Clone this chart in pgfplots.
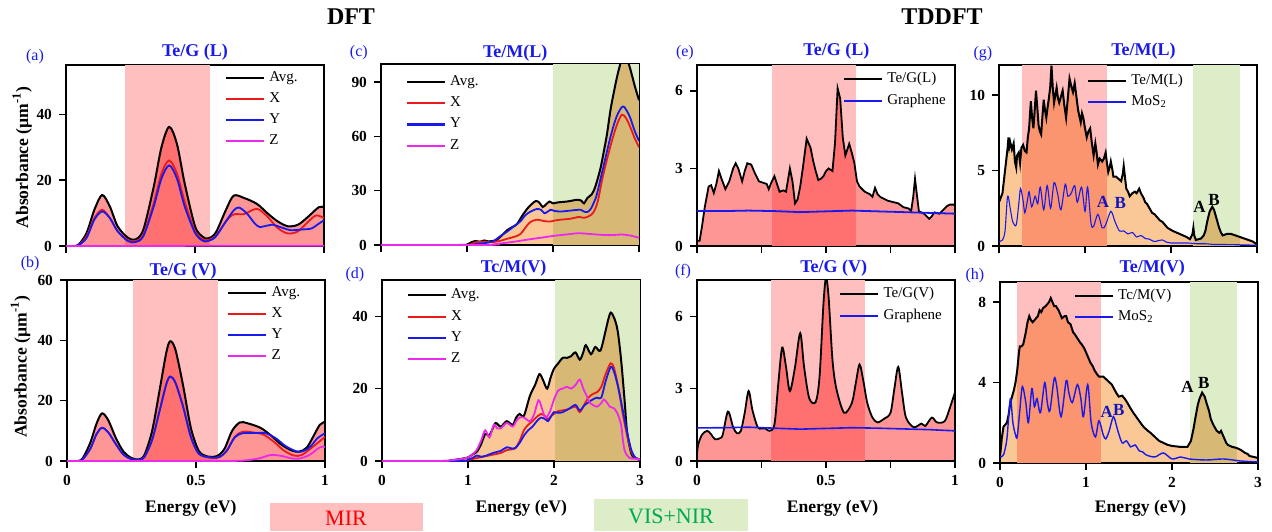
\documentclass[border=0pt]{standalone}
\usepackage{pgfplots}
\pgfplotsset{compat=1.18}
\usepackage{pgfplotstable}
\usepackage{fontspec}
\setmainfont{Liberation Serif}
\definecolor{mirpink}{RGB}{255,191,191}
\definecolor{visgreen}{RGB}{220,237,200}
\definecolor{fillred}{RGB}{255,150,150}
\definecolor{fillorange}{RGB}{250,200,150}
\definecolor{tblue}{RGB}{25,25,235}
\definecolor{lred}{RGB}{235,25,25}
\definecolor{lblue}{RGB}{25,25,235}
\definecolor{lmag}{RGB}{235,40,235}
\definecolor{vistext}{RGB}{0,170,80}

% ---------- data ----------
\pgfplotstableread{
x y
0 0
0.03 0
0.05 0.5
0.08 4
0.11 11
0.14 15.5
0.17 12
0.20 6
0.24 2.5
0.27 2
0.30 5
0.34 18
0.37 30
0.40 36.2
0.43 31
0.46 19
0.50 6
0.53 2.8
0.55 2.3
0.58 4
0.62 11
0.65 15.3
0.69 14.6
0.74 12.8
0.78 10
0.82 7.5
0.86 6
0.90 6.5
0.94 9
0.98 11.8
1.0 11.8
}\Aavg
\pgfplotstableread{
x y
0 0
0.03 0
0.05 0.3
0.08 3
0.11 8.5
0.14 11
0.17 8.5
0.20 4.5
0.24 1.8
0.27 1.5
0.30 3.5
0.34 13
0.37 22
0.40 26
0.43 22
0.46 13.5
0.50 4.5
0.53 2
0.55 1.8
0.58 3
0.62 7.5
0.65 9.6
0.69 9.7
0.74 11.3
0.78 9
0.82 5.5
0.86 3.8
0.90 4.5
0.94 7.5
0.97 9.3
1.0 8.5
}\Ax
\pgfplotstableread{
x y
0 0
0.03 0
0.05 0.3
0.08 2.5
0.11 8
0.14 10.5
0.17 8.5
0.20 4.5
0.24 1.5
0.27 1.2
0.30 3
0.34 12
0.37 20.5
0.40 24.5
0.43 20.5
0.46 12
0.50 4
0.53 1.6
0.55 1.5
0.58 2.8
0.62 7.5
0.65 10.8
0.67 11.7
0.70 10
0.73 7
0.75 5.8
0.78 6.2
0.80 6.5
0.84 5.5
0.87 4.8
0.91 5
0.95 5.3
0.98 6.8
1.0 7.8
}\Ay
\pgfplotstableread{
x y
0 0
1 0.1
}\Az
% (b)
\pgfplotstableread{
x y
0 0
0.04 0
0.06 0.8
0.09 6
0.115 12.5
0.136 15.8
0.16 13.5
0.19 7.5
0.22 3
0.25 1
0.277 0.5
0.30 2
0.33 10
0.36 24
0.385 36
0.40 39.7
0.42 37
0.45 25
0.48 11
0.51 3.5
0.54 1.6
0.58 1.6
0.61 4
0.64 10
0.67 12.8
0.70 12.5
0.75 11
0.79 8.5
0.83 5.5
0.87 3.5
0.90 3.1
0.93 4.5
0.96 9
0.98 12
1.0 13
}\Bavg
\pgfplotstableread{
x y
0 0
0.04 0
0.06 0.5
0.09 4
0.115 9
0.136 11
0.16 9.5
0.19 5.5
0.22 2
0.25 0.6
0.28 0.3
0.30 1.3
0.33 7
0.36 17
0.385 25.5
0.40 28
0.42 26
0.45 18
0.48 8
0.51 2.5
0.55 1.2
0.59 1.3
0.62 3.5
0.65 8
0.68 9.7
0.72 9.5
0.76 8.8
0.80 6.5
0.84 3.5
0.88 1.8
0.91 2
0.95 4.5
1.0 8
}\Bx
\pgfplotstableread{
x y
0 0
0.04 0
0.06 0.5
0.09 4
0.115 9
0.136 11
0.16 9.5
0.19 5.5
0.22 2
0.25 0.6
0.28 0.3
0.30 1.3
0.33 7
0.36 17
0.385 25.5
0.40 28
0.42 26
0.45 18
0.48 8
0.51 2.5
0.55 1.2
0.59 1.3
0.62 3.5
0.65 7.8
0.68 9.2
0.73 9.3
0.77 9.2
0.81 7.5
0.85 4.8
0.90 3
0.94 4.5
0.97 7.5
1.0 9.2
}\By
\pgfplotstableread{
x y
0 0
0.6 0
0.7 0.3
0.75 1
0.79 2
0.83 1.7
0.87 0.9
0.9 0.8
0.94 2
0.97 4
0.99 4.8
1.0 4.6
}\Bz
% (c)
\pgfplotstableread{
x y
0 0
0.9 0
1.0 0.3
1.05 1.5
1.1 2.2
1.15 1.8
1.2 2.5
1.25 2
1.3 2.2
1.35 3
1.42 6
1.47 8.3
1.53 10
1.58 11.5
1.64 16
1.70 20
1.75 22.5
1.80 24.3
1.84 23.5
1.88 21
1.92 22.5
1.96 24
2.0 23
2.05 23.5
2.16 24
2.22 24.5
2.28 25
2.33 24.5
2.36 23
2.40 26
2.45 28
2.49 32
2.55 42
2.60 54
2.63 62
2.67 75
2.71 85
2.75 94
2.80 103
2.83 106
2.86 103
2.90 97
2.95 88
3.0 80
}\Cavg
\pgfplotstableread{
x y
0 0
1.0 0
1.05 0.5
1.1 1.5
1.2 1.8
1.3 1.6
1.4 2.5
1.47 3.5
1.55 4.5
1.62 6
1.67 9
1.72 12
1.77 13.5
1.82 14
1.90 13.2
1.97 13
2.02 13.5
2.09 14
2.2 14.5
2.3 15.5
2.36 15
2.42 16
2.47 18
2.52 24
2.58 38
2.67 55
2.74 66
2.80 72
2.85 70
2.90 65
2.95 59
3.0 54
}\Cx
\pgfplotstableread{
x y
0 0
1.0 0
1.1 0.5
1.2 1
1.3 2
1.39 5
1.47 7.5
1.55 10.5
1.62 13
1.68 16.5
1.74 18.5
1.82 20
1.86 19.5
1.90 17.5
1.94 18.5
1.97 19.5
2.02 18.8
2.09 18.5
2.2 19
2.32 19.5
2.36 18.5
2.40 18.2
2.44 20
2.48 24
2.51 28
2.58 42
2.67 60
2.74 71
2.81 76.5
2.86 74
2.90 70
2.95 63
3.0 57.5
}\Cy
\pgfplotstableread{
x y
0 0
1.2 0
1.3 0.3
1.4 0.9
1.5 1.5
1.6 2.2
1.75 3.3
1.9 4.3
2.0 5
2.15 5.8
2.3 6.5
2.45 6
2.6 5.5
2.7 5.5
2.8 5.8
2.9 5.2
3.0 4
}\Cz
% (d)
\pgfplotstableread{
x y
0 0
0.7 0
0.8 0.2
0.9 0.5
1.0 1
1.05 1.8
1.1 2.5
1.15 4.5
1.2 7.5
1.24 7
1.27 8
1.32 10.5
1.38 9.5
1.45 11
1.52 10
1.56 12
1.60 13
1.65 12.5
1.72 18
1.78 21
1.83 24
1.87 22.5
1.92 20
1.96 23
2.0 25.5
2.05 27
2.1 28.5
2.15 28.5
2.2 29
2.25 30
2.3 28
2.34 30
2.37 32
2.43 29.5
2.48 31.5
2.54 30.5
2.6 36
2.63 39
2.66 41
2.70 39.5
2.74 36
2.78 28
2.82 17
2.85 8
2.9 2
2.95 0.8
3.0 0.5
}\Davg
\pgfplotstableread{
x y
0 0
0.9 0
1.0 0.3
1.1 0.8
1.2 1.3
1.3 1.8
1.38 2.2
1.45 3
1.5 3.2
1.55 3.5
1.6 5.5
1.65 8.5
1.7 10
1.75 11
1.8 12.2
1.85 13
1.9 12.3
1.93 11.5
1.97 12.5
2.0 13
2.05 13.8
2.1 14
2.15 14.2
2.25 15
2.3 13.5
2.35 15.5
2.4 17.5
2.45 18.5
2.5 19
2.55 20.5
2.6 24
2.66 27
2.7 25.5
2.75 20
2.8 13
2.85 7
2.9 2.5
2.95 0.8
3.0 0.3
}\Dx
\pgfplotstableread{
x y
0 0
0.9 0
1.0 0.4
1.05 0.8
1.1 1.5
1.15 1.2
1.2 1.4
1.3 2.3
1.38 2.8
1.45 3.8
1.5 3.5
1.55 3.6
1.6 5
1.65 7
1.7 8.5
1.75 9.5
1.8 11
1.85 12
1.9 11.5
1.93 11
1.97 12.5
2.0 13.5
2.05 13.3
2.1 13.5
2.18 14.5
2.25 15.5
2.3 14
2.36 15.5
2.45 17
2.5 17.5
2.55 17.5
2.6 22
2.66 26
2.7 24.5
2.75 20
2.8 14
2.85 8
2.9 3
2.95 0.8
3.0 0.3
}\Dy
\pgfplotstableread{
x y
0 0
0.7 0
0.8 0.2
0.9 0.5
1.0 1
1.05 1.8
1.1 3
1.15 5.5
1.2 8.5
1.25 6.5
1.3 10
1.34 9
1.38 9
1.45 10.5
1.52 9.5
1.56 11
1.6 12
1.65 12
1.72 11
1.77 13
1.82 16.8
1.86 14.5
1.9 12
1.95 13.5
2.0 17
2.05 19.5
2.1 20
2.15 20.5
2.2 20
2.25 21
2.3 22.5
2.34 20
2.38 18
2.42 16
2.45 15.5
2.5 15
2.55 16
2.58 17
2.62 16
2.65 15
2.7 14.5
2.74 13
2.78 10
2.8 6
2.82 3
2.85 1.5
2.88 0.8
3.0 0.5
}\Dz
% (e)
\pgfplotstableread{
x y
0 0.2
0.01 0.2
0.02 0.8
0.03 1.5
0.045 2.3
0.055 2.35
0.065 2.05
0.075 2.4
0.085 2.9
0.095 2.6
0.11 2.2
0.125 2.5
0.14 3.0
0.15 3.2
0.16 3.0
0.175 2.5
0.185 2.9
0.195 3.2
0.21 3.15
0.225 2.8
0.24 2.5
0.255 2.45
0.27 2.4
0.278 2.2
0.29 2.5
0.30 2.7
0.31 2.4
0.32 2.1
0.335 2.15
0.345 2.1
0.36 3.0
0.37 2.5
0.38 1.65
0.39 1.8
0.40 2.3
0.41 3.0
0.425 4.15
0.44 3.8
0.45 3.3
0.46 2.9
0.47 2.55
0.48 2.6
0.49 2.7
0.50 2.9
0.51 3.0
0.525 2.9
0.535 4.0
0.545 6.1
0.555 5.7
0.565 4.2
0.575 3.5
0.59 3.95
0.60 3.6
0.61 3.2
0.62 2.5
0.63 2.3
0.65 2.1
0.67 2.0
0.68 1.9
0.69 2.25
0.70 2.0
0.71 1.9
0.73 1.8
0.74 1.75
0.76 1.7
0.78 1.65
0.80 1.5
0.82 1.45
0.83 1.35
0.838 1.9
0.845 2.6
0.852 2.0
0.86 1.35
0.88 1.25
0.90 1.05
0.91 1.15
0.92 1.3
0.94 1.25
0.95 1.35
0.97 1.55
0.98 1.6
1.0 1.6
}\Eavg
\pgfplotstableread{
x y
0 1.35
0.1 1.35
0.2 1.37
0.3 1.35
0.4 1.31
0.5 1.34
0.6 1.37
0.7 1.34
0.8 1.31
0.9 1.28
1.0 1.25
}\Egr
% (f)
\pgfplotstableread{
x y
0 0.3
0.005 0.7
0.02 1.1
0.04 1.25
0.055 1.1
0.07 0.9
0.09 0.95
0.10 1.1
0.12 2.05
0.14 1.4
0.155 1.15
0.17 1.25
0.185 2.0
0.20 2.9
0.215 2.1
0.235 1.4
0.25 1.35
0.265 1.35
0.28 1.25
0.30 1.5
0.315 3.2
0.33 4.7
0.345 3.9
0.36 2.9
0.38 3.9
0.40 5.3
0.415 3.9
0.435 2.6
0.46 2.45
0.475 3.5
0.49 6.5
0.50 7.6
0.51 6.8
0.525 4.2
0.54 3.0
0.57 2.0
0.60 2.4
0.615 3.2
0.63 4.0
0.645 3.3
0.66 2.4
0.68 1.8
0.70 1.6
0.725 1.75
0.75 2.0
0.765 3.0
0.78 3.9
0.795 2.8
0.81 1.8
0.84 1.4
0.87 1.55
0.885 1.45
0.91 1.8
0.93 1.6
0.96 1.65
0.98 2.2
1.0 2.85
}\Favg
\pgfplotstableread{
x y
0 1.37
0.1 1.38
0.2 1.4
0.3 1.36
0.4 1.32
0.5 1.35
0.6 1.38
0.7 1.36
0.8 1.33
0.9 1.3
1.0 1.25
}\Fgr
% (g)
\pgfplotstableread{
x y
0 2.9
0.02 3.2
0.04 3.5
0.06 4.5
0.08 5.5
0.10 6.5
0.11 7.2
0.12 6.6
0.13 6.9
0.15 6.4
0.17 6.8
0.185 5.6
0.20 5.2
0.21 6.0
0.23 6.2
0.245 5.5
0.26 6.5
0.28 6.7
0.30 6.3
0.32 6.2
0.335 7.2
0.35 7.8
0.37 9.6
0.385 8.5
0.40 7.8
0.415 9.0
0.43 10.3
0.445 9.2
0.46 8.0
0.475 7.6
0.49 7.4
0.505 8.6
0.52 9.7
0.535 9.0
0.55 8.5
0.565 9.2
0.58 9.8
0.595 10.5
0.61 11.95
0.625 10.5
0.64 9.5
0.655 10.0
0.67 10.5
0.685 9.8
0.70 9.5
0.72 9.9
0.74 10.3
0.76 9.3
0.78 8.5
0.80 9.8
0.82 11.1
0.84 10.6
0.86 10.2
0.88 10.8
0.90 9.9
0.92 9.0
0.935 8.6
0.95 8.2
0.965 8.8
0.98 8.5
1.00 7.8
1.02 7.2
1.04 7.6
1.06 7.8
1.08 6.8
1.10 6.0
1.12 6.8
1.135 6.2
1.15 5.4
1.17 5.8
1.20 5.6
1.22 5.8
1.24 6.2
1.255 5.5
1.27 4.9
1.29 5.3
1.30 5.6
1.32 5.0
1.33 4.6
1.36 4.6
1.38 4.5
1.40 4.4
1.42 4.3
1.44 4.8
1.45 5.3
1.47 4.3
1.48 3.8
1.50 3.6
1.52 3.3
1.55 3.5
1.58 3.6
1.60 3.5
1.63 3.8
1.65 3.5
1.68 3.2
1.70 2.9
1.72 2.8
1.75 2.5
1.78 2.2
1.81 2.1
1.84 1.9
1.87 1.7
1.90 1.6
1.93 1.4
1.96 1.2
1.99 1.1
2.02 1.0
2.06 0.9
2.10 0.8
2.14 0.7
2.18 0.6
2.22 0.45
2.25 0.8
2.26 1.2
2.27 0.7
2.29 0.4
2.32 0.45
2.35 0.5
2.38 0.7
2.40 1.0
2.42 1.6
2.45 2.3
2.48 2.6
2.50 2.4
2.52 2.0
2.54 1.6
2.56 1.2
2.58 0.9
2.60 0.7
2.65 0.8
2.70 0.8
2.75 0.7
2.80 0.6
2.85 0.5
2.90 0.4
2.95 0.3
3.00 0.1
}\Gavg
\pgfplotstableread{
x y
0 0.3
0.04 0.4
0.07 1.0
0.10 3.3
0.13 2.5
0.16 1.6
0.20 1.4
0.23 2.8
0.25 3.8
0.28 3.0
0.30 2.2
0.33 3.0
0.35 3.6
0.38 2.6
0.42 3.3
0.45 2.8
0.48 3.9
0.52 2.4
0.56 4.0
0.60 2.5
0.64 4.2
0.68 3.5
0.72 2.4
0.77 4.1
0.80 3.3
0.84 3.5
0.88 4.0
0.91 2.9
0.96 3.9
1.00 2.3
1.03 3.9
1.07 1.5
1.10 1.3
1.15 2.1
1.20 1.2
1.24 1.4
1.30 2.3
1.35 1.6
1.40 1.0
1.45 1.0
1.50 0.8
1.55 0.9
1.60 0.6
1.65 0.7
1.70 0.5
1.75 0.45
1.80 0.3
1.85 0.35
1.90 0.4
1.95 0.25
2.00 0.2
2.10 0.2
2.20 0.2
2.30 0.15
2.40 0.15
2.50 0.1
2.60 0.1
2.80 0.08
3.00 0.05
}\Gmos
% (h)
\pgfplotstableread{
x y
0 0.3
0.02 1.2
0.04 1.8
0.06 1.9
0.08 2.0
0.10 2.4
0.12 3.0
0.14 3.3
0.16 3.6
0.18 4.0
0.20 4.6
0.22 5.5
0.23 5.8
0.25 5.8
0.27 5.9
0.30 6.5
0.32 7.0
0.34 7.3
0.36 7.1
0.38 7.0
0.40 7.1
0.42 7.2
0.44 7.3
0.46 7.6
0.48 7.5
0.50 7.7
0.53 7.8
0.55 7.9
0.57 8.0
0.59 8.2
0.61 8.0
0.63 7.8
0.65 7.8
0.68 7.6
0.70 7.4
0.72 7.2
0.75 7.3
0.77 7.3
0.79 7.0
0.82 6.9
0.85 6.5
0.87 6.4
0.90 6.2
0.93 6.0
0.95 5.9
0.98 5.7
1.00 5.5
1.03 5.2
1.05 5.0
1.08 4.8
1.10 4.6
1.13 4.4
1.15 4.3
1.20 4.3
1.25 4.1
1.30 3.9
1.35 3.5
1.38 3.3
1.42 3.35
1.45 3.2
1.48 3.0
1.52 2.7
1.55 2.5
1.60 2.2
1.65 1.9
1.68 1.75
1.72 1.6
1.75 1.5
1.80 1.3
1.85 1.1
1.90 1.0
1.95 0.9
2.00 0.85
2.10 0.8
2.18 0.8
2.22 1.1
2.25 1.7
2.27 2.2
2.30 2.9
2.32 3.2
2.35 3.5
2.38 3.3
2.40 3.0
2.43 2.6
2.45 2.2
2.48 1.9
2.52 1.6
2.55 1.5
2.57 1.6
2.60 1.3
2.63 1.0
2.65 0.9
2.70 0.8
2.75 0.75
2.80 0.65
2.85 0.5
2.88 0.45
2.90 0.35
2.95 0.3
3.00 0.25
}\Havg
\pgfplotstableread{
x y
0 0.3
0.04 0.4
0.08 1.2
0.12 3.2
0.15 2.0
0.18 1.4
0.20 1.3
0.23 2.6
0.26 3.8
0.30 3.0
0.33 2.0
0.37 3.7
0.40 2.8
0.43 3.2
0.47 2.5
0.52 4.0
0.55 3.0
0.58 2.6
0.63 4.2
0.66 3.8
0.71 2.3
0.77 4.1
0.80 3.5
0.84 3.0
0.90 3.9
0.94 3.2
0.97 2.3
1.02 3.9
1.06 2.0
1.11 1.3
1.15 2.1
1.20 1.4
1.23 1.2
1.27 1.6
1.32 2.3
1.37 1.6
1.42 1.0
1.47 1.1
1.52 0.8
1.57 0.9
1.62 0.6
1.66 0.55
1.70 0.4
1.80 0.3
1.90 0.5
2.00 0.2
2.10 0.3
2.20 0.2
2.40 0.15
2.60 0.2
2.80 0.1
3.00 0.05
}\Hmos

\tikzset{
  ptl/.style={font=\fontsize{8}{9}\selectfont, text=tblue},
  ttl/.style={font=\bfseries\fontsize{9}{10}\selectfont, text=tblue},
  ylab/.style={rotate=90, font=\bfseries\fontsize{8.8}{10}\selectfont},
  xlab/.style={font=\bfseries\fontsize{8.8}{10}\selectfont},
  ab/.style={font=\bfseries\fontsize{8.5}{9}\selectfont},
}
\pgfplotsset{
  panel/.style={
    scale only axis, width=129pt, height=90.5pt, anchor=south west,
    axis line style={line width=0.7pt},
    tick align=outside, tick pos=left,
    major tick length=3.5pt, minor tick length=3.5pt,
    every tick/.style={line width=0.7pt, black},
    clip mode=individual,
    ticklabel style={font=\bfseries\fontsize{7.7}{9}\selectfont},
    /pgf/number format/assume math mode=true,
    legend cell align=left,
    legend style={draw=none, fill=none, font=\fontsize{7.5}{9}\selectfont,
      row sep=0.2pt, inner sep=0pt, anchor=north west},
    legend image code/.code={\draw[##1, line width=1.1pt] (0pt,0pt) -- (19pt,0pt);},
  },
  top/.style={xticklabels={}},
  avg/.style={black, line width=1pt},
  comp/.style={line width=0.9pt},
}

\begin{document}
\begin{tikzpicture}
\path[use as bounding box] (0,0) rectangle (636pt,265.5pt);

% ---------- (a) ----------
\begin{axis}[panel, top, at={(33pt,142.5pt)}, xmin=0, xmax=1, ymin=0, ymax=55,
  xtick={0,0.5,1}, ytick={0,20,40}, legend style={at={(0.615,0.99)}}]
\fill[mirpink] (axis cs:0.23,0) rectangle (axis cs:0.56,55);
\addplot[draw=none, fill=fillred, blend mode=multiply, smooth, forget plot] table {\Aavg} \closedcycle;
\addplot[avg, smooth] table {\Aavg}; \addlegendentry{Avg.}
\addplot[lred, comp, smooth] table {\Ax}; \addlegendentry{X}
\addplot[lblue, comp, smooth] table {\Ay}; \addlegendentry{Y}
\addplot[lmag, comp] table {\Az}; \addlegendentry{Z}
\node[ptl] at (rel axis cs:-0.12,1.044) {(a)};
\node[ttl] at (rel axis cs:0.5,1.07) {Te/G (L)};
\node[ylab] at (rel axis cs:-0.17,0.49) {Absorbance (µm\textsuperscript{-1})};
\end{axis}

% ---------- (b) ----------
\begin{axis}[panel, at={(33.5pt,35pt)}, xmin=0, xmax=1, ymin=0, ymax=60,
  xtick={0,0.5,1}, ytick={0,20,40,60}, legend style={at={(0.62,0.99)}}]
\fill[mirpink] (axis cs:0.256,0) rectangle (axis cs:0.584,60);
\addplot[draw=none, fill=fillred, blend mode=multiply, smooth, forget plot] table {\Bavg} \closedcycle;
\addplot[avg, smooth] table {\Bavg}; \addlegendentry{Avg.}
\addplot[lred, comp, smooth] table {\Bx}; \addlegendentry{X}
\addplot[lblue, comp, smooth] table {\By}; \addlegendentry{Y}
\addplot[lmag, comp, smooth] table {\Bz}; \addlegendentry{Z}
\node[ptl] at (rel axis cs:-0.143,1.093) {(b)};
\node[ttl] at (rel axis cs:0.45,1.05) {Te/G (V)};
\node[ylab] at (rel axis cs:-0.18,0.52) {Absorbance (µm\textsuperscript{-1})};
\node[xlab] at (rel axis cs:0.48,-0.26) {Energy (eV)};
\end{axis}

% ---------- (c) ----------
\begin{axis}[panel, top, at={(190.5pt,143pt)}, xmin=0, xmax=3, ymin=0, ymax=100,
  xtick={0,1,2,3}, ytick={0,30,60,90}, legend style={at={(0.095,0.96)}}]
\fill[visgreen] (axis cs:2.0,0) rectangle (axis cs:3,100);
\addplot[draw=none, fill=fillorange, blend mode=multiply, smooth, forget plot] table {\Cavg} \closedcycle;
\addplot[avg, smooth] table {\Cavg}; \addlegendentry{Avg.}
\addplot[lred, comp, smooth] table {\Cx}; \addlegendentry{X}
\addplot[lblue, comp, smooth] table {\Cy}; \addlegendentry{Y}
\addplot[lmag, comp, smooth] table {\Cz}; \addlegendentry{Z}
\node[ptl] at (rel axis cs:-0.086,1.06) {(c)};
\node[ttl] at (rel axis cs:0.52,1.06) {Te/M(L)};
\end{axis}

% ---------- (d) ----------
\begin{axis}[panel, at={(191pt,35pt)}, xmin=0, xmax=3, ymin=0, ymax=50,
  xtick={0,1,2,3}, ytick={0,20,40}, legend style={at={(0.095,0.975)}}]
\fill[visgreen] (axis cs:2.01,0) rectangle (axis cs:3,50);
\addplot[draw=none, fill=fillorange, blend mode=multiply, smooth, forget plot] table {\Davg} \closedcycle;
\addplot[avg, smooth] table {\Davg}; \addlegendentry{Avg.}
\addplot[lred, comp, smooth] table {\Dx}; \addlegendentry{X}
\addplot[lblue, comp, smooth] table {\Dy}; \addlegendentry{Y}
\addplot[lmag, comp, smooth] table {\Dz}; \addlegendentry{Z}
\node[ptl] at (rel axis cs:-0.105,1.028) {(d)};
\node[ttl] at (rel axis cs:0.51,1.067) {Tc/M(V)};
\node[xlab] at (rel axis cs:0.54,-0.26) {Energy (eV)};
\end{axis}

% ---------- (e) ----------
\begin{axis}[panel, top, at={(348.5pt,142.5pt)}, xmin=0, xmax=1, ymin=0, ymax=7,
  xtick={0,0.5,1}, minor xtick={0.25,0.75}, ytick={0,3,6}, legend style={at={(0.565,0.985)}}]
\fill[mirpink] (axis cs:0.29,0) rectangle (axis cs:0.617,7);
\addplot[draw=none, fill=fillred, blend mode=multiply, forget plot] table {\Eavg} \closedcycle;
\addplot[black, line width=0.9pt] table {\Eavg}; \addlegendentry{Te/G(L)}
\addplot[lblue, line width=0.9pt] table {\Egr}; \addlegendentry{Graphene}
\node[ptl] at (rel axis cs:-0.047,1.066) {(e)};
\node[ttl] at (rel axis cs:0.54,1.075) {Te/G (L)};
\end{axis}

% ---------- (f) ----------
\begin{axis}[panel, at={(348.5pt,35pt)}, xmin=0, xmax=1, ymin=0, ymax=7.5,
  xtick={0,0.5,1}, minor xtick={0.25,0.75}, ytick={0,3,6}, legend style={at={(0.55,0.985)}}]
\fill[mirpink] (axis cs:0.285,0) rectangle (axis cs:0.653,7.5);
\addplot[draw=none, fill=fillred, blend mode=multiply, smooth, forget plot] table {\Favg} \closedcycle;
\addplot[black, line width=0.9pt, smooth] table {\Favg}; \addlegendentry{Te/G(V)}
\addplot[lblue, line width=0.8pt] table {\Fgr}; \addlegendentry{Graphene}
\node[ptl] at (rel axis cs:-0.054,1.044) {(f)};
\node[ttl] at (rel axis cs:0.53,1.066) {Te/G (V)};
\node[xlab] at (rel axis cs:0.525,-0.26) {Energy (eV)};
\end{axis}

% ---------- (g) ----------
\begin{axis}[panel, top, at={(499.5pt,142.5pt)}, xmin=0, xmax=3, ymin=0, ymax=12,
  xtick={0,1,2,3}, ytick={0,5,10}, legend style={at={(0.34,0.975)}}]
\fill[mirpink] (axis cs:0.27,0) rectangle (axis cs:1.26,12);
\fill[visgreen] (axis cs:2.26,0) rectangle (axis cs:2.80,12);
\addplot[draw=none, fill=fillorange, blend mode=multiply, forget plot] table {\Gavg} \closedcycle;
\addplot[black, line width=1pt] table {\Gavg}; \addlegendentry{Te/M(L)}
\addplot[lblue, line width=0.55pt, smooth] table {\Gmos}; \addlegendentry{MoS\textsubscript{2}}
\node[ptl] at (rel axis cs:-0.0625,1.061) {(g)};
\node[ttl] at (rel axis cs:0.56,1.075) {Te/M(L)};
\node[ab, text=lblue!80!black] at (axis cs:1.21,2.9) {A};
\node[ab, text=lblue!80!black] at (axis cs:1.41,2.85) {B};
\node[ab] at (axis cs:2.33,2.6) {A};
\node[ab] at (axis cs:2.50,3.05) {B};
\end{axis}

% ---------- (h) ----------
\begin{axis}[panel, at={(500pt,34pt)}, xmin=0, xmax=3, ymin=0, ymax=9,
  xtick={0,1,2,3}, ytick={0,4,8}, legend style={at={(0.285,0.985)}}]
\fill[mirpink] (axis cs:0.195,0) rectangle (axis cs:1.18,9);
\fill[visgreen] (axis cs:2.21,0) rectangle (axis cs:2.75,9);
\addplot[draw=none, fill=fillorange, blend mode=multiply, forget plot] table {\Havg} \closedcycle;
\addplot[black, line width=1pt] table {\Havg}; \addlegendentry{Tc/M(V)}
\addplot[lblue, line width=0.7pt, smooth] table {\Hmos}; \addlegendentry{MoS\textsubscript{2}}
\node[ptl] at (rel axis cs:-0.097,1.033) {(h)};
\node[ttl] at (rel axis cs:0.59,1.077) {Te/M(V)};
\node[xlab] at (rel axis cs:0.545,-0.25) {Energy (eV)};
\node[ab, text=lblue!80!black] at (axis cs:1.24,2.54) {A};
\node[ab, text=lblue!80!black] at (axis cs:1.38,2.65) {B};
\node[ab] at (axis cs:2.18,3.8) {A};
\node[ab] at (axis cs:2.37,4.0) {B};
\end{axis}

% ---------- headers and bands legend ----------
\node[font=\bfseries\fontsize{12}{14}\selectfont] at (175.5pt,257pt) {DFT};
\node[font=\bfseries\fontsize{12}{14}\selectfont] at (471pt,257pt) {TDDFT};
\fill[mirpink] (135pt,0pt) rectangle (211.5pt,14pt);
\node[text=red, font=\fontsize{11}{12}\selectfont] at (173pt,6.5pt) {MIR};
\fill[visgreen] (297pt,0pt) rectangle (374pt,16pt);
\node[text=vistext, font=\fontsize{11}{12}\selectfont] at (335.5pt,7.5pt) {VIS+NIR};
\end{tikzpicture}
\end{document}
